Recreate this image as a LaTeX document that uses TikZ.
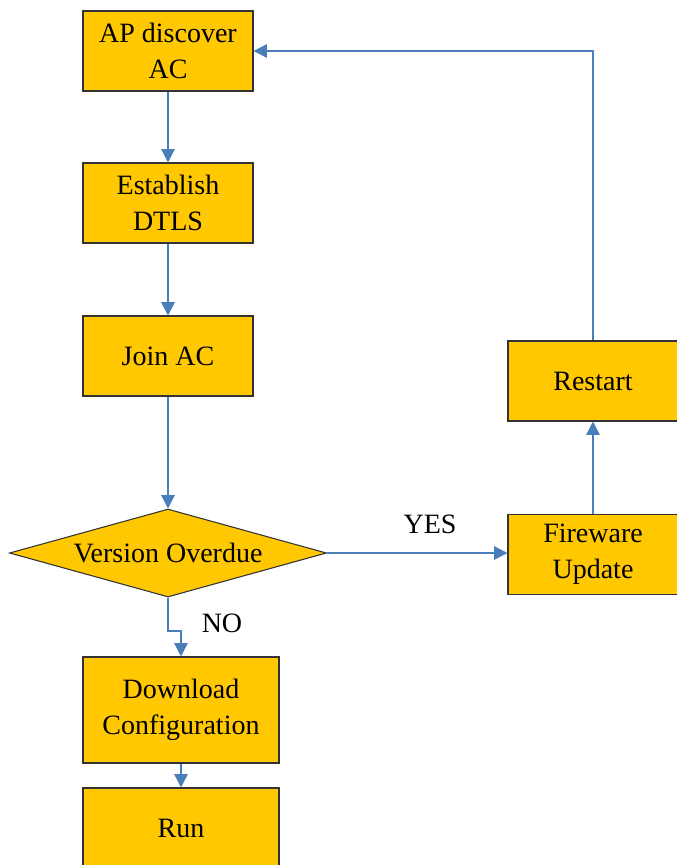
\documentclass[tikz,border=0pt]{standalone}
\usepackage{fontspec}
\setmainfont{Liberation Serif}
\usetikzlibrary{shapes.geometric,arrows.meta}
\definecolor{boxfill}{RGB}{255,200,0}
\definecolor{flowline}{RGB}{74,126,187}
\tikzset{
  procbox/.style={draw=black!80,fill=boxfill,line width=0.8pt,inner sep=0pt,
    minimum width=127.5pt,minimum height=60pt,align=center},
  decide/.style={diamond,draw=black!80,fill=boxfill,line width=0.8pt,inner sep=0pt,
    minimum width=237.75pt,minimum height=66pt,aspect=3.6},
  flow/.style={draw=flowline,line width=1.2pt}
}
\begin{document}
\begin{tikzpicture}[x=0.75pt,y=-0.75pt,>={Triangle[length=10pt,width=10pt]},
  every node/.style={font=\fontsize{21}{27}\selectfont}]
\useasboundingbox (0,0) rectangle (676,865);
\node[procbox] (ap) at (168,51) {AP discover\\AC};
\node[procbox] (dtls) at (168,203) {Establish\\DTLS};
\node[procbox] (join) at (168,356) {Join AC};
\node[decide] (ver) at (168,553) {Version Overdue};
\node[procbox,minimum width=147pt,minimum height=79.5pt] (dl) at (181,710) {Download\\Configuration};
\node[procbox,minimum width=147pt] (run) at (181,828) {Run};
\node[procbox] (fw) at (593,554.5) {Fireware\\Update};
\node[procbox] (rst) at (593,381) {Restart};
\coordinate (jog) at (168,631);
\node (yes) at (430,524) {YES};
\node (no) at (222,623) {NO};
\draw[flow,->] (ap) -- (dtls);
\draw[flow,->] (dtls) -- (join);
\draw[flow,->] (join) -- (ver);
\draw[flow,->] (ver.east) -- (ver.east -| fw.west);
\draw[flow,->] (ver.south) -- (jog) -| (dl.north);
\draw[flow,->] (dl) -- (run);
\draw[flow,->] (fw) -- (rst);
\draw[flow,->] (rst.north) |- (ap.east);
\end{tikzpicture}
\end{document}
